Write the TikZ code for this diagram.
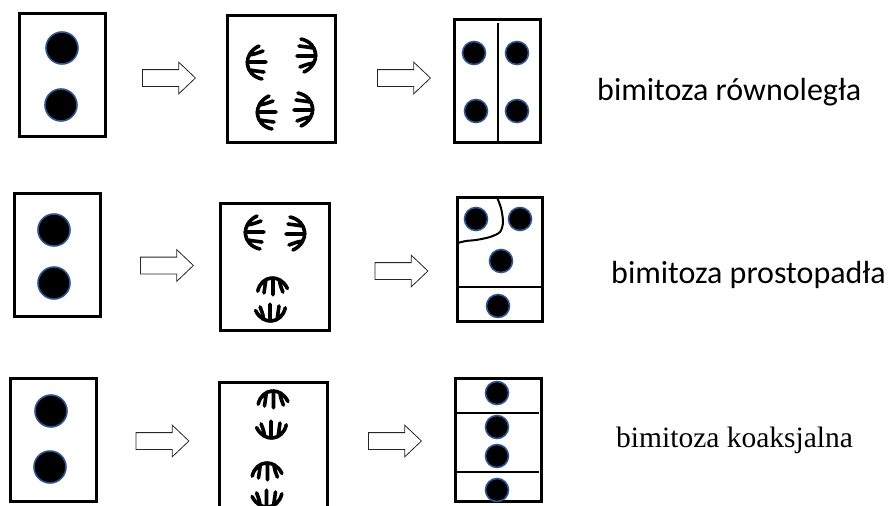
\documentclass[tikz,border=0pt]{standalone}
\usepackage{fontspec}
\setmainfont{Carlito}
\newfontfamily\romanfont{Liberation Serif}
\usetikzlibrary{shapes.arrows}

\definecolor{nucleusblue}{HTML}{2F5597}

\tikzset{
  cell/.style={draw, rectangle, line width=2.5pt, inner sep=0pt},
  nucleus/.style={circle, fill=black, draw=nucleusblue, line width=1.6pt, inner sep=0pt},
  bignuc/.style={nucleus, minimum size=32pt},
  smallnuc/.style={nucleus, minimum size=23pt},
  wall/.style={line width=2pt},
  blockarrow/.style={single arrow, draw=black!85, fill=white, line width=0.8pt,
    minimum height=53pt, minimum width=0pt, inner xsep=0pt, inner ysep=8pt,
    single arrow head extend=7.5pt, single arrow tip angle=87},
  pics/chromo/.style={code={
    \draw[line width=3.6pt, line cap=round, line join=round]
      (-17,8) .. controls (-13,-10) and (8,-12) .. (16,5)
      (-8,-4) .. controls (-9,2) .. (-10,10)
      (0,-7) -- (0,12)
      (7,-5) .. controls (8,1) .. (11,9);
  }}
}

\begin{document}
\begin{tikzpicture}[x=1pt, y=-1pt]
  \useasboundingbox (0,0) rectangle (895,506);
  \clip (0,0) rectangle (895,506);

  % cell outlines
  \begin{scope}[every node/.style={cell}]
    \node[minimum width=86pt, minimum height=123pt] (r1c1) at (62.5,75) {};
    \node[minimum width=108pt, minimum height=127pt] (r1c2) at (281.5,79) {};
    \node[minimum width=86pt, minimum height=123pt] (r1c3) at (497.5,81) {};

    \node[minimum width=86pt, minimum height=123pt] (r2c1) at (57.5,255) {};
    \node[minimum width=109pt, minimum height=127pt] (r2c2) at (275,267) {};
    \node[minimum width=85pt, minimum height=124pt] (r2c3) at (500,259.5) {};

    \node[minimum width=86pt, minimum height=123pt] (r3c1) at (53.5,440) {};
    \node[minimum width=108pt, minimum height=127pt] (r3c2) at (273.5,446) {};
    \node[minimum width=86pt, minimum height=123pt] (r3c3) at (498.5,440) {};
  \end{scope}

  % arrows between the stages
  \begin{scope}[every node/.style={blockarrow}]
    \node (a11) at (164.5,78) {};
    \node (a12) at (399.5,78) {};
    \node (a21) at (162.5,265.5) {};
    \node (a22) at (397,271) {};
    \node (a31) at (158,441) {};
    \node (a32) at (390.5,441) {};
  \end{scope}

  % two nuclei before division
  \begin{scope}[every node/.style={bignuc}]
    \node (n11) at (62,48) {};
    \node (n12) at (61,105) {};
    \node (n21) at (54,230) {};
    \node (n22) at (54,283) {};
    \node (n31) at (51,411) {};
    \node (n32) at (50,467) {};
  \end{scope}

  % spindles
  \pic[rotate=90] at (254,62) {chromo};
  \pic[rotate=-90] at (309,56) {chromo};
  \pic[rotate=90] at (264,112) {chromo};
  \pic[rotate=-90] at (306,110) {chromo};

  \pic[rotate=90] at (252,232) {chromo};
  \pic[rotate=-90] at (298,234) {chromo};
  \pic[scale=0.9] at (273,284) {chromo};
  \pic[rotate=180, scale=0.9] at (270,315) {chromo};

  \pic[scale=0.9] at (273.5,397) {chromo};
  \pic[rotate=180, scale=0.9] at (271,432) {chromo};
  \pic[scale=0.9] at (267.5,469) {chromo};
  \pic[rotate=180, scale=0.9] at (266.5,501) {chromo};

  % daughter cells
  \begin{scope}[every node/.style={smallnuc}]
    \node (m11) at (474,53) {};
    \node (m12) at (517,53) {};
    \node (m13) at (476,111) {};
    \node (m14) at (517,111) {};

    \node (m21) at (476,219) {};
    \node (m22) at (520,219) {};
    \node (m23) at (501,261) {};
    \node (m24) at (498,306) {};

    \node (m31) at (497,393) {};
    \node (m32) at (497,427) {};
    \node (m33) at (497,456) {};
    \node (m34) at (497,490) {};
  \end{scope}

  \draw[wall] (r1c3.south) -- (497.5,23);
  \draw[wall] (457.5,287) -- (541,287);
  \draw[wall, line join=round] plot[smooth] coordinates
    {(497,197.5) (501,208) (503,222) (500,232) (490,237) (476,240) (466,241) (457.5,243)};
  \draw[wall] (455.5,413) -- (539,413);
  \draw[wall] (455.5,472) -- (539,472);

  % labels
  \node[anchor=base west, inner sep=0pt, font=\fontsize{32}{38}\selectfont] (t1) at (597,100) {bimitoza równoległa};
  \node[anchor=base west, inner sep=0pt, font=\fontsize{32}{38}\selectfont] (t2) at (611,283) {bimitoza prostopadła};
  \node[anchor=base west, inner sep=0pt, font=\romanfont\fontsize{29.5}{34}\selectfont] (t3) at (616,447) {bimitoza koaksjalna};

\end{tikzpicture}
\end{document}
